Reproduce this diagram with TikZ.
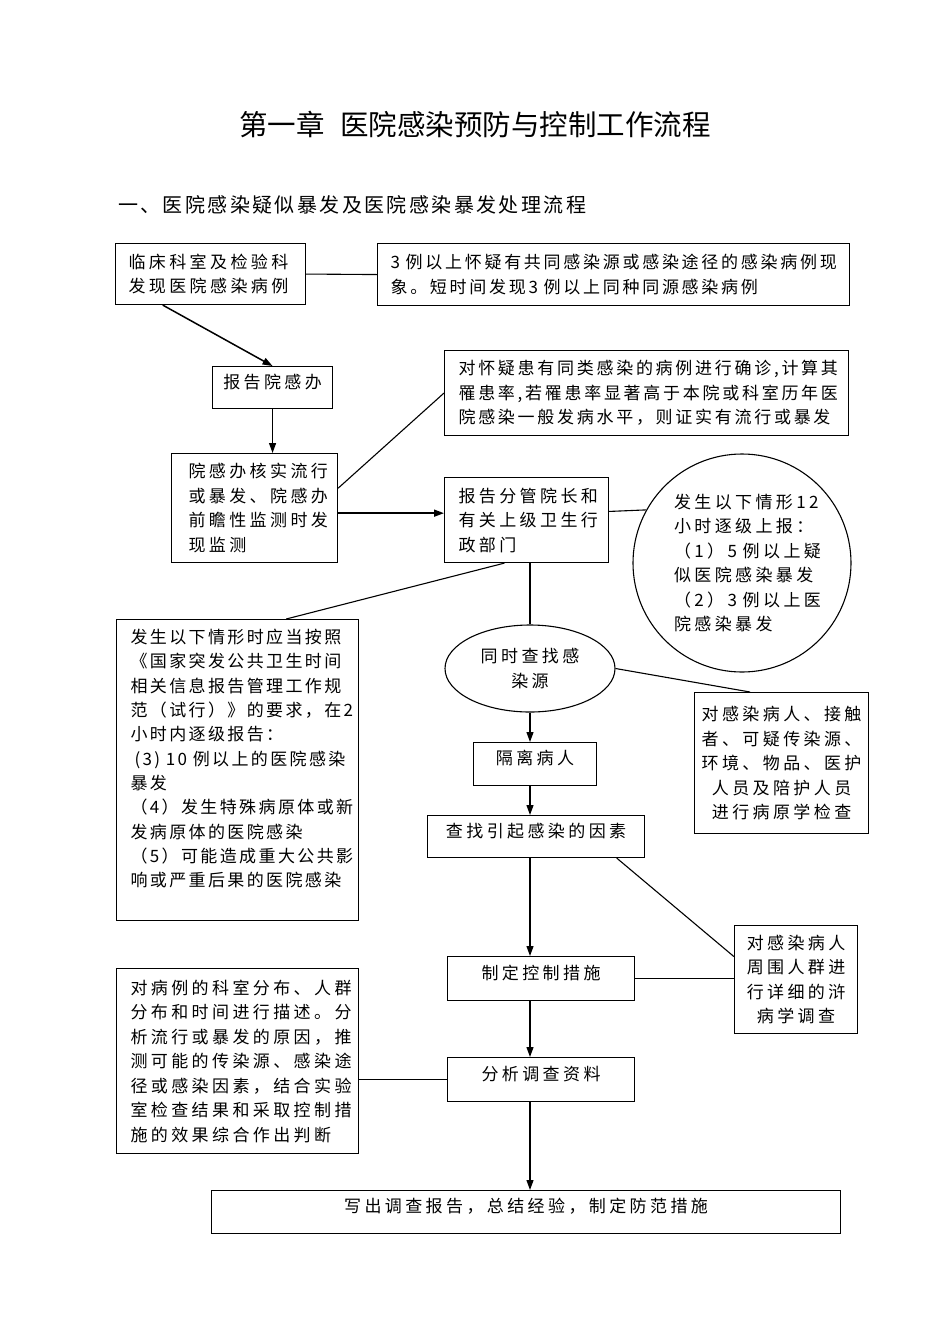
\documentclass[tikz,border=0pt]{standalone}
\usepackage{fontspec}
\newfontfamily\cjk[LetterSpace=20]{Noto Sans CJK SC}
\newfontfamily\cjkH[LetterSpace=14]{Noto Sans CJK SC}
\newfontfamily\cjkM[LetterSpace=16]{Noto Sans CJK SC}
\newfontfamily\cjktitle{Noto Sans CJK SC}
\newfontfamily\cjksub[LetterSpace=12]{Noto Sans CJK SC}
\usetikzlibrary{arrows.meta,calc,shapes.geometric}
\newcommand\myfont{\cjk\fontsize{17}{24.5}\selectfont}
\newcommand\myfontH{\cjkH\fontsize{17}{24.3}\selectfont}
\newcommand\myfontM{\cjkM\fontsize{17}{24.5}\selectfont}
\tikzset{
  box/.style={draw, line width=1.1pt, rectangle, anchor=north west, inner xsep=0pt, inner ysep=2pt, align=left, font=\myfont},
  cbox/.style={box, align=center},
  oneline/.style={text height=10pt, text depth=9pt},
  ln/.style={line width=1.1pt},
  arr/.style={line width=1.2pt, -{Triangle[length=10pt,width=7pt]}},
}
\begin{document}
\begin{tikzpicture}[x=1pt,y=-1pt]
\useasboundingbox (0,0) rectangle (950,1344);
% titles
\node[font=\cjktitle\fontsize{28.5}{32}\selectfont, inner sep=0] (title) at (475,124) {第一章\hspace{16pt}医院感染预防与控制工作流程};
\node[anchor=west, font=\cjksub\fontsize{20}{24}\selectfont, inner sep=0] (sub) at (118,205) {一、医院感染疑似暴发及医院感染暴发处理流程};
% boxes
\node[box, minimum width=190pt, minimum height=61pt, text width=164pt] (A) at (115,243) {临床科室及检验科\\发现医院感染病例};
\node[box, font=\myfontM, minimum width=472pt, minimum height=62pt, text width=446pt] (B) at (377,243) {3~例以上怀疑有共同感染源或感染途径的感染病例现\\象。短时间发现3~例以上同种同源感染病例};
\node[cbox, oneline, minimum width=120pt, minimum height=42pt, text width=110pt] (C) at (212,366) {报告院感办};
\node[box, minimum width=166pt, minimum height=109pt, text width=132pt] (D) at (171,453) {院感办核实流行\\或暴发、院感办\\前瞻性监测时发\\现监测};
\node[box, font=\myfontM, minimum width=404pt, minimum height=85pt, text width=376pt] (E) at (444,350) {对怀疑患有同类感染的病例进行确诊,计算其\\罹患率,若罹患率显著高于本院或科室历年医\\院感染一般发病水平，则证实有流行或暴发};
\node[box, minimum width=164pt, minimum height=85pt, text width=136pt] (F) at (444,477) {报告分管院长和\\有关上级卫生行\\政部门};
\node[draw, line width=1.1pt, circle, minimum size=218pt, inner sep=0pt, text width=136pt, align=left, font=\myfont] (G) at (742,563) {发生以下情形12\\小时逐级上报：\\（1）5~例以上疑\\似医院感染暴发\\（2）3~例以上医\\院感染暴发};
\node[box, font=\myfontH, minimum width=242pt, minimum height=301pt, text width=214pt] (H) at (116,619) {发生以下情形时应当按照\\《国家突发公共卫生时间\\相关信息报告管理工作规\\范（试行）》的要求，在2\\小时内逐级报告：\\\mbox{}\kern4pt(3)~10~例以上的医院感染\\暴发\\（4）发生特殊病原体或新\\发病原体的医院感染\\（5）可能造成重大公共影\\响或严重后果的医院感染\\\mbox{}};
\node[draw, line width=1.1pt, ellipse, minimum width=170pt, minimum height=87pt, inner sep=0pt, text width=106pt, align=center, font=\myfont] (I) at (530,668.5) {同时查找感\\染源};
\node[cbox, oneline, minimum width=123pt, minimum height=43pt, text width=110pt] (J) at (473,742) {隔离病人};
\node[cbox, oneline, minimum width=217pt, minimum height=42pt, text width=200pt] (K) at (427,815) {查找引起感染的因素};
\node[cbox, minimum width=174pt, minimum height=141pt, text width=166pt] (L) at (694,692) {对感染病人、接触\\者、可疑传染源、\\环境、物品、医护\\人员及陪护人员\\进行病原学检查};
\node[cbox, minimum width=123pt, minimum height=108pt, text width=110pt] (M) at (734,925) {对感染病人\\周围人群进\\行详细的浒\\病学调查};
\node[cbox, oneline, minimum width=187pt, minimum height=44pt, text width=170pt] (N) at (447,956) {制定控制措施};
\node[cbox, oneline, minimum width=187pt, minimum height=44pt, text width=170pt] (O) at (447,1057) {分析调查资料};
\node[box, minimum width=242pt, minimum height=185pt, text width=214pt] (P) at (116,968) {对病例的科室分布、人群\\分布和时间进行描述。分\\析流行或暴发的原因，推\\测可能的传染源、感染途\\径或感染因素，结合实验\\室检查结果和采取控制措\\施的效果综合作出判断};
\node[cbox, oneline, minimum width=629pt, minimum height=43pt, text width=600pt] (Q) at (211,1190) {写出调查报告，总结经验，制定防范措施};
% connectors
\draw[ln] (A.east) -- (B.west);
\draw[arr, line width=1.5pt] ($(A.south west)!0.25!(A.south east)$) -- (C.north);
\draw[arr] (C.south) -- (C.south |- D.north);
\draw[ln] ($(D.north east)!0.32!(D.south east)$) -- (E.west);
\coordinate (fin) at ($(F.north west)!0.42!(F.south west)$);
\draw[arr, line width=1.6pt] (D.east |- fin) -- (fin);
\draw[ln] ($(F.north east)!0.4!(F.south east)$) -- (G.151.5);
\draw[ln] ($(F.south west)!0.366!(F.south east)$) -- ($(H.north west)!0.7!(H.north east)$);
\draw[ln] (I.north |- F.south) -- (I.north);
\draw[arr] (I.south) -- (I.south |- J.north);
\draw[arr] (I.south |- J.south) -- (I.south |- K.north);
\draw[ln] (I.east) -- ($(L.north west)!0.32!(L.north east)$);
\draw[arr] (I.south |- K.south) -- (I.south |- N.north);
\draw[ln] ($(K.south west)!0.87!(K.south east)$) -- ($(M.north west)!0.29!(M.south west)$);
\draw[ln] (N.east) -- (N.east -| M.west);
\draw[arr] (I.south |- N.south) -- (I.south |- O.north);
\draw[ln] (O.west) -- (O.west -| P.east);
\draw[arr] (I.south |- O.south) -- (I.south |- Q.north);
\end{tikzpicture}
\end{document}
